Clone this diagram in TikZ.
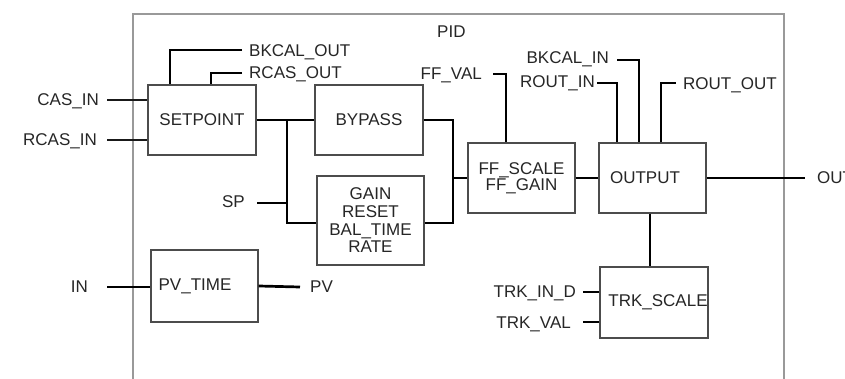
\documentclass[tikz,border=0pt]{standalone}
\usepackage{fontspec}
\setmainfont{Liberation Sans}
\begin{document}
\begin{tikzpicture}[x=1pt,y=-1pt,
  font=\fontsize{17}{17.7}\selectfont,
  txt/.style={inner sep=0pt,text=black!85},
  blk/.style={draw=black!70,line width=1.3pt,fill=white,inner sep=0pt,align=center,text=black!85},
  wire/.style={line width=2.7pt,black},
  thinwire/.style={line width=1.9pt,black!90},
  frame/.style={draw=black!40,line width=1.7pt}]
\useasboundingbox (0,0) rectangle (845,379);
\clip (0,0) rectangle (845,379);
\draw[frame] (133,390) -- (133,14) -- (784,14) -- (784,390);
% blocks
\node[blk,minimum width=108pt,minimum height=70pt] (setpoint) at (202,120) {SETPOINT};
\node[blk,minimum width=108pt,minimum height=70pt] (bypass) at (369,120) {BYPASS};
\node[blk,minimum width=107pt,minimum height=89pt] (gain) at (370.5,220.5) {GAIN\\RESET\\BAL\_TIME\\RATE};
\node[blk,minimum width=107pt,minimum height=72pt] (pvtime) at (204.5,286) {\hspace*{-19pt}PV\_TIME};
\node[blk,minimum width=107pt,minimum height=70pt,font=\fontsize{17}{16}\selectfont] (ffscale) at (521.5,178) {FF\_SCALE\\FF\_GAIN};
\node[blk,minimum width=107pt,minimum height=70pt] (output) at (652.5,178) {\hspace*{-15pt}OUTPUT};
\node[blk,minimum width=108pt,minimum height=71pt] (trk) at (654,302.5) {\hspace*{8pt}TRK\_SCALE};
% labels
\node[txt,anchor=base west] (pid) at (437,38) {PID};
\node[txt,anchor=base east] (lcasin) at (99,106) {CAS\_IN};
\node[txt,anchor=base east] (lrcasin) at (97,146) {RCAS\_IN};
\node[txt,anchor=base west] (lbkout) at (249,57) {BKCAL\_OUT};
\node[txt,anchor=base west] (lrcasout) at (249,79) {RCAS\_OUT};
\node[txt,anchor=base east] (lsp) at (245,208) {SP};
\node[txt,anchor=base east] (lin) at (88,292) {IN};
\node[txt,anchor=base west] (lpv) at (310,292) {PV};
\node[txt,anchor=base east] (lffval) at (482,80) {FF\_VAL};
\node[txt,anchor=base east] (lbkin) at (609,64) {BKCAL\_IN};
\node[txt,anchor=base east] (lroutin) at (595,88) {ROUT\_IN};
\node[txt,anchor=base west] (lroutout) at (683,90) {ROUT\_OUT};
\node[txt,anchor=base west] (lout) at (817,184) {OUT};
\node[txt,anchor=base east] (ltrkin) at (576,297) {TRK\_IN\_D};
\node[txt,anchor=base east] (ltrkval) at (571,328) {TRK\_VAL};
% free ends and junctions
\coordinate (casin) at (107,100);
\coordinate (rcasin) at (107,140);
\coordinate (bkout) at (242,50);
\coordinate (rcasout) at (242,73);
\coordinate (spend) at (257,203);
\coordinate (j1) at (287,120);
\coordinate (j2) at (453,120);
\coordinate (ffval) at (493,74);
\coordinate (bkin) at (617,60);
\coordinate (routin) at (597,83);
\coordinate (routout) at (676,83);
\coordinate (outend) at (805,178);
\coordinate (trkin) at (583,292);
\coordinate (trkval) at (583,322);
\coordinate (inend) at (107,287);
\coordinate (pvend) at (300,287);
% connectors
\draw[thinwire] (casin) -- (casin -| setpoint.west);
\draw[thinwire] (rcasin) -- (rcasin -| setpoint.west);
\draw[wire] (bkout) -| ([xshift=-32pt]setpoint.north);
\draw[wire] (rcasout) -| ([xshift=9pt]setpoint.north);
\draw[wire] (setpoint.east) -- (bypass.west);
\draw[wire] (j1) |- ([yshift=-2.5pt]gain.west);
\draw[wire] (spend) -- (spend -| j1);
\draw[wire] (bypass.east) -- (j2) |- ([yshift=-2.5pt]gain.east);
\draw[wire] (j2 |- ffscale.west) -- (ffscale.west);
\draw[wire] (ffval) -| ([xshift=-15.5pt]ffscale.north);
\draw[wire] (ffscale.east) -- (output.west);
\draw[wire] (output.east) -- (outend);
\draw[wire] (bkin) -| ([xshift=-13.5pt]output.north);
\draw[wire] (routin) -| ([xshift=-35.5pt]output.north);
\draw[wire] ([xshift=8.5pt]output.north) |- (routout);
\draw[wire] ([xshift=-2.5pt]output.south) -- ([xshift=-2.5pt]output.south |- trk.north);
\draw[wire] (trkin) -- (trkin -| trk.west);
\draw[wire] (trkval) -- (trkval -| trk.west);
\draw[wire] (inend) -- (inend -| pvtime.west);
\draw[wire] (pvtime.east) -- (pvend);
\end{tikzpicture}
\end{document}
